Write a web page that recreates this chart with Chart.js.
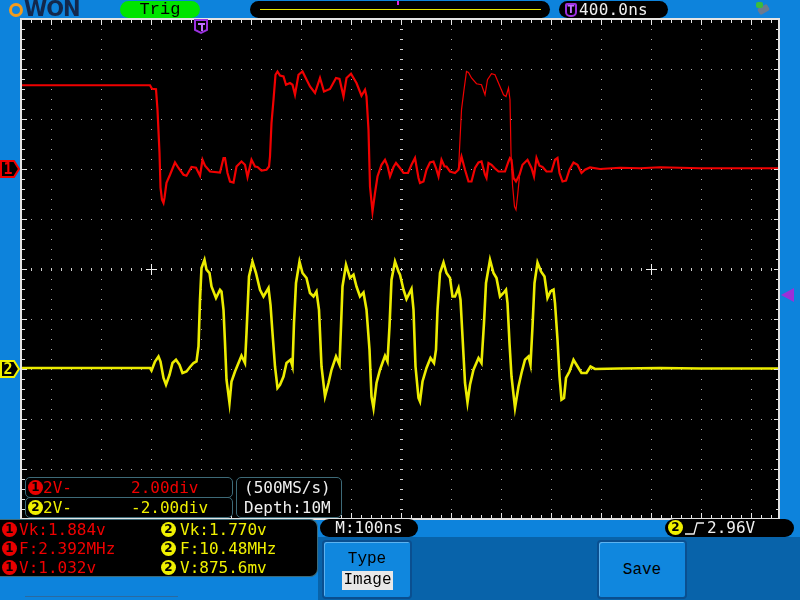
<!DOCTYPE html>
<html>
<head>
<meta charset="utf-8">
<script src="https://cdn.jsdelivr.net/npm/chart.js@4.4.1/dist/chart.umd.min.js"></script>
<style>
  body { margin: 0; background: #0d83dc; }
  #wrap { position: relative; width: 800px; height: 600px; overflow: hidden; background: #0d83dc; font-family: "DejaVu Sans Mono", monospace; font-size: 16px; }
  .abs { position: absolute; box-sizing: border-box; white-space: pre; }
  #scope { position: absolute; left: 0; top: 0; }
  .pill { background: #000; border-radius: 9px; }
  .badge { position: absolute; width: 15px; height: 15px; border-radius: 50%; color: #000; font: bold 12px "DejaVu Sans", sans-serif; line-height: 15px; text-align: center; }
  .red { color: #f00000; }
  .yel { color: #f0f000; }
  .b1 { background: #e80000; }
  .b2 { background: #f0f000; }
  .row { border: 1px solid #3d6a78; border-radius: 5px; background: #000; }
  .btn { background: #1087de; border: 2px solid #0a4f90; border-radius: 4px; box-shadow: inset 1px 1px 0 #5cb2f0; }
  .serif { font-family: "Liberation Mono", monospace; }
</style>
</head>
<body>
<div id="wrap">
  <div class="abs" style="left:318px;top:537px;width:482px;height:63px;background:#0863aa"></div>
  <canvas id="scope" width="800" height="600"></canvas>

  <!-- top bar -->
  <div class="abs" style="left:9px;top:3px;width:14px;height:14px;border:3px solid #f29b1c;border-radius:50%"></div>
  <div class="abs" style="left:24px;top:-3px;font:bold 21px 'DejaVu Sans',sans-serif;color:#13284c;letter-spacing:-1px">WON</div>
  <div class="abs serif" style="left:120px;top:1px;width:80px;height:17px;border-radius:9px;background:#00e400;color:#000;text-align:center;line-height:17px;font-size:17px">Trig</div>
  <div class="abs pill" style="left:250px;top:1px;width:300px;height:17px">
    <div class="abs" style="left:10px;top:8px;width:281px;height:1px;background:#e8e800"></div>
    <div class="abs" style="left:147px;top:0px;width:2px;height:4px;background:#e020e0"></div>
  </div>
  <div class="abs pill" style="left:559px;top:1px;width:109px;height:17px">
    <div class="abs" style="left:6px;top:2px;width:12px;height:14px;border:2px solid #9b30e0;border-radius:2px 2px 5px 5px;color:#c070ff;font:bold 10px 'DejaVu Sans',sans-serif;text-align:center;line-height:10px">T</div>
    <div class="abs" style="left:20px;top:0px;line-height:17px;color:#f0f0f0;letter-spacing:0.2px">400.0ns</div>
  </div>
  <div class="abs" style="left:758px;top:6px;width:11px;height:7px;background:#6a7a90;border-radius:2px;transform:rotate(-30deg)"></div>
  <div class="abs" style="left:756px;top:2px;width:7px;height:6px;background:#3cbc3c;border-radius:2px"></div>

  <!-- in-plot info boxes -->
  <div class="abs row" style="left:25px;top:477px;width:208px;height:21px">
    <div class="badge b1" style="left:2px;top:2px">1</div>
    <div class="abs red" style="left:17px;top:0px;line-height:19px">2V-</div>
    <div class="abs red" style="left:105px;top:0px;line-height:19px">2.00div</div>
  </div>
  <div class="abs row" style="left:25px;top:497px;width:208px;height:21px">
    <div class="badge b2" style="left:2px;top:2px">2</div>
    <div class="abs yel" style="left:17px;top:0px;line-height:19px">2V-</div>
    <div class="abs yel" style="left:105px;top:0px;line-height:19px">-2.00div</div>
  </div>
  <div class="abs row" style="left:236px;top:477px;width:106px;height:41px;color:#f0f0f0">
    <div class="abs" style="left:7px;top:0px;line-height:19px">(500MS/s)</div>
    <div class="abs" style="left:7px;top:20px;line-height:19px">Depth:10M</div>
  </div>

  <!-- measurement panel -->
  <div class="abs" style="left:0px;top:519px;width:318px;height:58px;background:#000;border-radius:0 8px 8px 0;border:1px solid #3d6a78;border-left:none"></div>
  <div class="badge b1" style="left:2px;top:522px">1</div>
  <div class="abs red" style="left:19px;top:520px;line-height:19px">Vk:1.884v</div>
  <div class="badge b1" style="left:2px;top:541px">1</div>
  <div class="abs red" style="left:19px;top:539px;line-height:19px">F:2.392MHz</div>
  <div class="badge b1" style="left:2px;top:560px">1</div>
  <div class="abs red" style="left:19px;top:558px;line-height:19px">V:1.032v</div>
  <div class="badge b2" style="left:161px;top:522px">2</div>
  <div class="abs yel" style="left:180px;top:520px;line-height:19px">Vk:1.770v</div>
  <div class="badge b2" style="left:161px;top:541px">2</div>
  <div class="abs yel" style="left:180px;top:539px;line-height:19px">F:10.48MHz</div>
  <div class="badge b2" style="left:161px;top:560px">2</div>
  <div class="abs yel" style="left:180px;top:558px;line-height:19px">V:875.6mv</div>
  <div class="abs" style="left:25px;top:596px;width:153px;height:1px;background:#2a6aa0"></div>

  <!-- bottom status pills -->
  <div class="abs pill" style="left:320px;top:519px;width:98px;height:18px;color:#f0f0f0;text-align:center;line-height:18px">M:100ns</div>
  <div class="abs pill" style="left:665px;top:519px;width:129px;height:18px;color:#f0f0f0">
    <div class="badge b2" style="left:3px;top:1px">2</div>
    <svg class="abs" style="left:20px;top:2px" width="20" height="15"><polyline points="0,13 9,13 12,2 19,2" fill="none" stroke="#f0f0f0" stroke-width="1.3"/></svg>
    <div class="abs" style="left:42px;top:0px;line-height:18px">2.96V</div>
  </div>

  <!-- soft buttons -->
  <div class="abs btn serif" style="left:322px;top:540px;width:90px;height:59px">
    <div class="abs" style="left:0;top:8px;width:86px;text-align:center;line-height:18px">Type</div>
    <div class="abs" style="left:18px;top:29px;width:51px;height:19px;background:#e8e8e8;color:#000;text-align:center;line-height:19px">Image</div>
  </div>
  <div class="abs btn serif" style="left:597px;top:540px;width:90px;height:59px">
    <div class="abs" style="left:0;top:19px;width:86px;text-align:center;line-height:18px">Save</div>
  </div>
</div>

<script>
// scope settings
const voltsPerDiv = 2;
const ch1Offset = 2;     // divisions
const ch2Offset = -2;
const triggerLevel = 2.96; // V on CH2
const triggerTime = -400;  // ns
const timeDivs = [-700, -600, -500, -400, -300, -200, -100, 0, 100, 200, 300, 400, 500, 600, 700];
const voltDivs = [-4, -3, -2, -1, 0, 1, 2, 3, 4];

// CH1 (red), time in ns, volts
const ch1Time = [-758,-502,-498,-490,-487,-483,-481,-478,-475,-473,-469,-462,-452,-445,-435,-429,-419,-410,-402,-397,-392,-382,-362,-355,-352,-347,-342,-335,-329,-319,-312,-307,-299,-292,-287,-279,-269,-264,-262,-259,-255,-251,-247,-242,-235,-230,-222,-217,-212,-205,-197,-192,-182,-172,-162,-154,-142,-130,-123,-115,-109,-100,-89,-79,-72,-69,-65,-62,-57,-52,-47,-39,-32,-27,-22,-15,-10,-2,5,14,21,28,35,38,45,51,58,65,70,75,81,87,91,98,108,115,121,128,135,141,148,155,161,168,171,175,181,187,195,208,215,218,221,225,230,237,243,253,261,266,271,277,283,291,301,308,313,317,323,330,337,345,353,361,368,378,398,438,478,518,598,756];
const ch1Volt = [3.35,3.35,3.21,3.19,2.37,0.65,-0.75,-1.23,-1.36,-1.15,-0.55,-0.23,0.26,0.04,-0.23,-0.27,0.08,0.05,-0.27,0.37,0.13,-0.10,-0.14,0.44,0.44,-0.16,-0.50,-0.54,0.10,0.30,0.17,-0.32,0.37,0.10,0.08,-0.06,-0.03,0.10,0.50,1.84,2.77,3.77,3.90,3.74,3.70,3.37,3.44,3.37,2.97,3.77,3.90,3.70,3.30,3.04,3.64,3.10,3.20,3.64,3.60,2.90,3.64,3.81,3.44,2.93,3.17,2.90,1.57,-0.70,-1.70,-0.96,-0.30,0.17,0.37,0.13,-0.30,0.08,0.24,0.04,-0.16,-0.16,0.17,0.44,-0.36,-0.56,-0.50,-0.03,0.26,0.30,0.04,-0.30,0.37,0.10,0.10,-0.10,-0.16,-0.03,0.50,-0.03,-0.50,-0.50,0.04,0.26,0.30,-0.23,-0.36,0.24,0.17,0.04,-0.10,-0.10,0.30,0.44,0.37,-0.36,-0.50,-0.23,0.17,0.37,0.04,-0.30,0.44,0.13,0.08,-0.10,-0.10,0.37,0.44,-0.16,-0.50,-0.46,-0.03,0.26,0.17,-0.16,-0.03,0.06,0.00,0.05,0.03,0.07,0.03,0.03];

// CH1 second captured frame (persistence), thin pulse
const ch1GhostTime = [115,118,121,126,131,135,141,151,161,168,173,181,188,195,205,210,215,218,220,223,227,230,233,237];
const ch1GhostVolt = [-0.03,1.17,2.37,3.17,3.90,3.86,3.64,3.41,3.37,2.97,3.57,3.81,3.77,3.44,2.97,2.90,3.24,2.77,0.64,-0.63,-1.50,-1.63,-1.10,-0.30];

// CH2 (yellow)
const ch2Time = [-758,-502,-499,-492,-485,-481,-475,-470,-463,-457,-450,-443,-437,-429,-422,-415,-409,-405,-402,-399,-393,-389,-383,-379,-370,-362,-359,-355,-352,-349,-343,-339,-332,-325,-319,-312,-309,-304,-297,-290,-282,-275,-265,-261,-257,-252,-247,-242,-235,-229,-221,-217,-214,-210,-203,-197,-189,-182,-175,-169,-164,-159,-152,-145,-139,-130,-123,-120,-117,-110,-102,-95,-89,-82,-75,-69,-63,-59,-55,-49,-42,-32,-27,-23,-19,-12,-5,-2,5,11,21,25,29,35,38,43,51,59,66,70,73,78,85,91,98,103,108,115,119,123,128,133,138,145,155,161,166,170,178,185,191,198,205,210,213,217,221,228,235,241,248,255,259,263,267,273,280,287,293,299,305,308,313,317,321,326,330,337,345,351,361,371,379,388,438,518,598,756];
const ch2Volt = [0.04,0.04,-0.06,0.30,0.50,0.30,-0.36,-0.63,-0.23,0.24,0.37,0.17,-0.16,-0.10,0.08,0.24,0.30,0.90,2.77,4.04,4.37,3.97,3.84,3.30,2.84,3.17,3.10,2.37,1.04,-0.43,-1.36,-0.50,-0.10,0.24,0.53,0.24,1.44,3.70,4.30,3.84,3.17,2.90,3.24,2.57,1.44,0.10,-0.76,-0.63,-0.30,0.24,0.37,0.10,1.84,3.44,4.30,3.84,3.64,3.04,2.90,3.10,2.37,0.10,-1.10,-0.56,-0.03,0.50,0.17,1.70,3.30,4.17,3.64,3.77,3.30,2.90,3.06,2.37,0.77,-1.10,-1.56,-0.56,-0.03,0.53,0.30,1.70,3.57,4.30,3.90,3.77,3.17,2.80,3.20,2.37,0.10,-1.16,-1.30,-0.50,0.04,0.44,0.24,0.77,2.37,3.84,4.26,3.84,3.64,2.90,2.90,3.24,2.77,1.30,-0.56,-1.34,-0.63,-0.03,0.44,0.24,1.84,3.44,4.37,3.84,3.64,2.90,3.04,3.17,2.64,1.04,-0.30,-1.56,-0.70,-0.16,0.37,0.50,0.17,1.70,3.44,4.26,3.90,3.70,2.84,3.10,3.17,2.64,1.17,-0.30,-1.23,-1.16,-0.36,-0.10,0.37,0.17,-0.16,-0.16,0.10,0.00,0.02,0.04,0.02,0.02];

const toPoints = (ts, vs, off) => ts.map((t, i) => ({ x: t, y: vs[i] / voltsPerDiv + off }));

const scopeGrid = {
  id: 'scopeGrid',
  beforeDatasetsDraw(chart) {
    const { ctx, chartArea: a, scales: { x, y } } = chart;
    ctx.save();
    ctx.fillStyle = '#000';
    ctx.fillRect(a.left, a.top, a.right - a.left, a.bottom - a.top);
    ctx.fillStyle = '#a8a8a8';
    // dotted division lines, a dot every 1/5 division
    for (const t of timeDivs) {
      const px = Math.round(x.getPixelForValue(t));
      for (let k = -25; k <= 25; k++) ctx.fillRect(px, Math.round(y.getPixelForValue(k / 5)), 1, 1);
    }
    for (const d of voltDivs) {
      const py = Math.round(y.getPixelForValue(d));
      for (let k = -38; k <= 38; k++) {
        const px = Math.round(x.getPixelForValue(k * 20));
        if (px > a.left && px < a.right) ctx.fillRect(px, py, 1, 1);
      }
    }
    // centre axes with small ticks
    ctx.fillStyle = '#d0d0d0';
    const cx = Math.round(x.getPixelForValue(0)), cy = Math.round(y.getPixelForValue(0));
    for (let k = -38; k <= 38; k++) {
      const px = Math.round(x.getPixelForValue(k * 20));
      if (px > a.left + 2 && px < a.right - 2) ctx.fillRect(px, cy - 1, 1, 3);
    }
    for (let k = -25; k <= 25; k++) ctx.fillRect(cx - 1, Math.round(y.getPixelForValue(k / 5)), 3, 1);
    // crosses at +-5 div
    ctx.fillStyle = '#f0f0f0';
    for (const t of [-500, 500]) {
      const px = Math.round(x.getPixelForValue(t));
      ctx.fillRect(px - 5, cy, 11, 1);
      ctx.fillRect(px, cy - 5, 1, 11);
    }
    ctx.restore();
  },
  afterDatasetsDraw(chart) {
    const { ctx, chartArea: a, scales: { x, y } } = chart;
    ctx.save();
    // border with inward ticks
    ctx.strokeStyle = '#e4e4e4';
    ctx.lineWidth = 2;
    ctx.strokeRect(a.left - 1, a.top, a.right - a.left + 1, a.bottom - a.top);
    ctx.fillStyle = '#e4e4e4';
    for (let k = -38; k <= 38; k++) {
      const px = Math.round(x.getPixelForValue(k * 20));
      if (px <= a.left + 2 || px >= a.right - 2) continue;
      const len = k % 5 === 0 ? 5 : 3;
      ctx.fillRect(px, a.top, 1, len + 1);
      ctx.fillRect(px, a.bottom - len - 1, 1, len + 1);
    }
    for (let k = -24; k <= 24; k++) {
      const py = Math.round(y.getPixelForValue(k / 5));
      const len = k % 5 === 0 ? 5 : 3;
      ctx.fillRect(a.left, py, len, 1);
      ctx.fillRect(a.right - len, py, len, 1);
    }
    // trigger position marker
    const tx = Math.round(x.getPixelForValue(triggerTime));
    ctx.fillStyle = '#000';
    ctx.strokeStyle = '#9b30e0';
    ctx.lineWidth = 2;
    ctx.beginPath();
    ctx.moveTo(tx - 6, a.top + 1); ctx.lineTo(tx + 6, a.top + 1); ctx.lineTo(tx + 6, a.top + 11);
    ctx.lineTo(tx, a.top + 14); ctx.lineTo(tx - 6, a.top + 11); ctx.closePath();
    ctx.fill(); ctx.stroke();
    ctx.fillStyle = '#c070ff';
    ctx.fillRect(tx - 3, a.top + 4, 7, 2);
    ctx.fillRect(tx, a.top + 4, 2, 8);
    ctx.restore();
  },
  afterDraw(chart) {
    const { ctx, chartArea: a, scales: { y } } = chart;
    ctx.save();
    const tag = (off, col, txt) => {
      const py = Math.round(y.getPixelForValue(off));
      ctx.beginPath();
      ctx.moveTo(1, py - 8); ctx.lineTo(14, py - 8); ctx.lineTo(19, py); ctx.lineTo(14, py + 8); ctx.lineTo(1, py + 8);
      ctx.closePath();
      ctx.fillStyle = '#000'; ctx.fill();
      ctx.strokeStyle = col; ctx.lineWidth = 2; ctx.stroke();
      ctx.fillStyle = col;
      ctx.font = 'bold 15px "DejaVu Sans Mono"';
      ctx.textAlign = 'center'; ctx.textBaseline = 'middle';
      ctx.fillText(txt, 8, py + 1);
    };
    tag(ch1Offset, '#f00000', '1');
    tag(ch2Offset, '#f0f000', '2');
    // trigger level arrow on the right
    const ty = y.getPixelForValue(triggerLevel / voltsPerDiv + ch2Offset);
    ctx.fillStyle = '#9b30d8';
    ctx.beginPath();
    ctx.moveTo(a.right + 2, ty); ctx.lineTo(a.right + 15, ty - 7); ctx.lineTo(a.right + 15, ty + 7);
    ctx.closePath(); ctx.fill();
    ctx.restore();
  }
};

new Chart(document.getElementById('scope'), {
  type: 'line',
  data: {
    datasets: [
      { label: 'CH2', data: toPoints(ch2Time, ch2Volt, ch2Offset), borderColor: '#ecec00', borderWidth: 2.6 },
      { label: 'CH1', data: toPoints(ch1Time, ch1Volt, ch1Offset), borderColor: '#f00000', borderWidth: 2.2 },
      { label: 'CH1 frame 2', data: toPoints(ch1GhostTime, ch1GhostVolt, ch1Offset), borderColor: '#f00000', borderWidth: 1.2 }
    ]
  },
  options: {
    responsive: false,
    animation: false,
    layout: { padding: { left: 22, right: 21, top: 19, bottom: 81 } },
    elements: { point: { radius: 0 }, line: { tension: 0 } },
    scales: {
      x: { type: 'linear', min: -758, max: 756, display: false },
      y: { type: 'linear', min: -5, max: 5, display: false }
    },
    plugins: { legend: { display: false }, tooltip: { enabled: false } }
  },
  plugins: [scopeGrid]
});
</script>
</body>
</html>
